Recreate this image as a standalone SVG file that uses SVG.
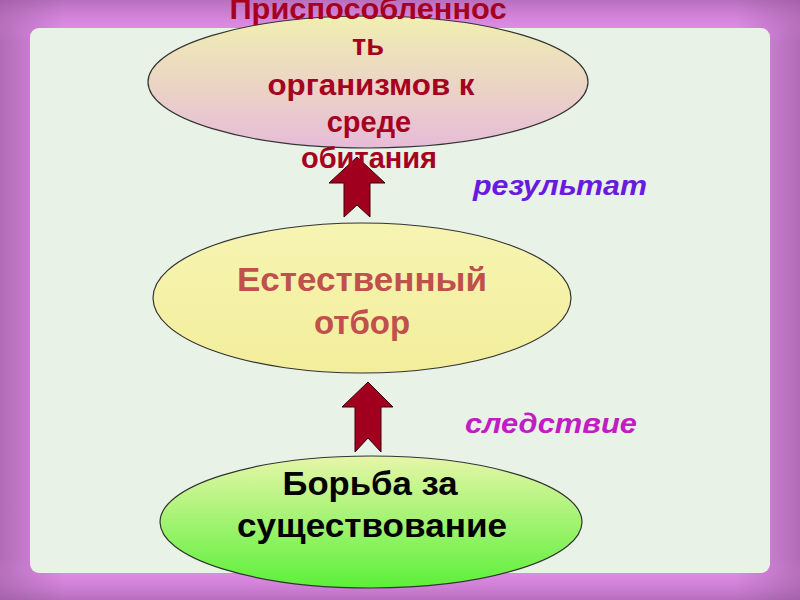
<svg xmlns="http://www.w3.org/2000/svg" width="800" height="600" viewBox="0 0 800 600">
<defs>
<style>
text{font-family:"Liberation Sans",Arial,sans-serif;font-weight:bold;text-anchor:middle}
.t1{font-size:29px;fill:#a5001f}
.t2{font-size:33px;fill:#c0504d}
.t3{font-size:34px;fill:#000}
.lab{font-size:28px;font-style:italic;text-anchor:start}
.node{stroke:#333;stroke-width:1.2}
.arrow{fill:#a0001e;stroke:#3a0008;stroke-width:1}
</style>
<linearGradient id="bgH" x1="0" y1="0" x2="1" y2="0">
<stop offset="0" stop-color="#b06cb6"/><stop offset="0.08" stop-color="#e28ee8"/><stop offset="0.92" stop-color="#e28ee8"/><stop offset="1" stop-color="#b06cb6"/>
</linearGradient>
<linearGradient id="bgV" x1="0" y1="0" x2="0" y2="1">
<stop offset="0" stop-color="#9a5aa0" stop-opacity="0.6"/><stop offset="0.07" stop-color="#e28ee8" stop-opacity="0"/><stop offset="0.93" stop-color="#e28ee8" stop-opacity="0"/><stop offset="1" stop-color="#9a5aa0" stop-opacity="0.6"/>
</linearGradient>
<linearGradient id="g1" x1="0" y1="0" x2="0" y2="1">
<stop offset="0" stop-color="#f0efb0"/><stop offset="1" stop-color="#e6bcd8"/>
</linearGradient>
<linearGradient id="g2" x1="0" y1="0" x2="0" y2="1">
<stop offset="0" stop-color="#f6f4b2"/><stop offset="1" stop-color="#f3ee9c"/>
</linearGradient>
<linearGradient id="g3" x1="0" y1="0" x2="0" y2="1">
<stop offset="0" stop-color="#e6f6a8"/><stop offset="1" stop-color="#5cf03a"/>
</linearGradient>
</defs>
<rect width="800" height="600" fill="url(#bgH)"/>
<rect width="800" height="600" fill="url(#bgV)"/>
<rect x="30" y="28" width="740" height="545" rx="9" fill="#e8f2e6"/>

<g id="connectors">
<path class="arrow" d="M357,157 L385,183 L370,183 L370,217 L357,205 L344,217 L344,183 L329,183 Z"/>
<path class="arrow" d="M368,382 L393,407 L381,407 L381,452 L368,438 L355,452 L355,407 L342,407 Z"/>
</g>

<g id="node-top">
<ellipse class="node" cx="368" cy="82" rx="220" ry="66" fill="url(#g1)"/>
<text class="t1" x="368" y="19" textLength="277" lengthAdjust="spacingAndGlyphs">Приспособленнос</text>
<text class="t1" x="368" y="55">ть</text>
<text class="t1" x="371" y="95" textLength="207" lengthAdjust="spacingAndGlyphs">организмов к</text>
<text class="t1" x="369" y="132">среде</text>
<text class="t1" x="369" y="168">обитания</text>
</g>
<g id="node-mid">
<ellipse class="node" cx="362" cy="298" rx="209" ry="75" fill="url(#g2)"/>
<text class="t2" x="362" y="291" textLength="250" lengthAdjust="spacingAndGlyphs">Естественный</text>
<text class="t2" x="362" y="334">отбор</text>
</g>
<g id="node-bottom">
<ellipse class="node" cx="371" cy="522" rx="211" ry="66" fill="url(#g3)"/>
<text class="t3" x="370" y="495" textLength="175" lengthAdjust="spacingAndGlyphs">Борьба за</text>
<text class="t3" x="372" y="537" textLength="270" lengthAdjust="spacingAndGlyphs">существование</text>
</g>
<g id="label-result">
<text class="lab" x="473" y="195" fill="#6a1ae0" textLength="174" lengthAdjust="spacingAndGlyphs">результат</text>
</g>
<g id="label-consequence">
<text class="lab" x="465" y="433" fill="#c21cc4" textLength="172" lengthAdjust="spacingAndGlyphs">следствие</text>
</g>
</svg>
